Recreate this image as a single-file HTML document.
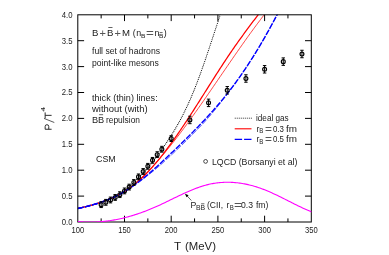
<!DOCTYPE html>
<html><head><meta charset="utf-8"><title>chart</title>
<style>
html,body{margin:0;padding:0;background:#fff;}
body{width:389px;height:255px;position:relative;overflow:hidden;font-family:"Liberation Sans",sans-serif;color:#222;}
</style></head><body>
<svg width="389" height="255" viewBox="0 0 389 255" style="position:absolute;left:0;top:0">
<defs><clipPath id="c"><rect x="77.80" y="14.80" width="233.50" height="207.20"/></clipPath></defs>
<clipPath id="c2"><rect x="77.80" y="150" width="46.70" height="72"/></clipPath>
<g clip-path="url(#c)" fill="none">
<path d="M77.80 208.48 L78.54 208.32 L79.27 208.16 L80.01 207.99 L80.75 207.83 L81.48 207.66 L82.22 207.49 L82.96 207.32 L83.69 207.14 L84.43 206.97 L85.17 206.79 L85.91 206.61 L86.64 206.42 L87.38 206.24 L88.12 206.05 L88.85 205.86 L89.59 205.67 L90.33 205.47 L91.06 205.27 L91.80 205.07 L92.54 204.86 L93.27 204.65 L94.01 204.44 L94.75 204.23 L95.48 204.01 L96.22 203.78 L96.96 203.56 L97.70 203.33 L98.43 203.09 L99.17 202.85 L99.91 202.61 L100.64 202.37 L101.38 202.11 L102.12 201.86 L102.85 201.60 L103.59 201.34 L104.33 201.07 L105.06 200.79 L105.80 200.52 L106.54 200.23 L107.27 199.95 L108.01 199.65 L108.75 199.35 L109.49 199.04 L110.22 198.73 L110.96 198.41 L111.70 198.08 L112.43 197.74 L113.17 197.39 L113.91 197.04 L114.64 196.67 L115.38 196.29 L116.12 195.90 L116.85 195.50 L117.59 195.08 L118.33 194.66 L119.06 194.22 L119.80 193.76 L120.54 193.29 L121.28 192.81 L122.01 192.31 L122.75 191.80 L123.49 191.27 L124.22 190.73 L124.96 190.17 L125.70 189.59 L126.43 189.00 L127.17 188.40 L127.91 187.77 L128.64 187.14 L129.38 186.49 L130.12 185.83 L130.85 185.16 L131.59 184.47 L132.33 183.78 L133.07 183.08 L133.80 182.37 L134.54 181.65 L135.28 180.93 L136.01 180.21 L136.75 179.49 L137.49 178.76 L138.22 178.02 L138.96 177.27 L139.70 176.51 L140.43 175.74 L141.17 174.97 L141.91 174.18 L142.64 173.38 L143.38 172.57 L144.12 171.75 L144.86 170.93 L145.59 170.09 L146.33 169.25 L147.07 168.39 L147.80 167.53 L148.54 166.65 L149.28 165.77 L150.01 164.88 L150.75 163.98 L151.49 163.07 L152.22 162.15 L152.96 161.22 L153.70 160.29 L154.43 159.34 L155.17 158.39 L155.91 157.43 L156.65 156.46 L157.38 155.48 L158.12 154.50 L158.86 153.50 L159.59 152.50 L160.33 151.49 L161.07 150.47 L161.80 149.45 L162.54 148.41 L163.28 147.37 L164.01 146.32 L164.75 145.26 L165.49 144.19 L166.22 143.11 L166.96 142.02 L167.70 140.91 L168.44 139.80 L169.17 138.67 L169.91 137.54 L170.65 136.39 L171.38 135.22 L172.12 134.04 L172.86 132.85 L173.59 131.64 L174.33 130.42 L175.07 129.18 L175.80 127.92 L176.54 126.65 L177.28 125.36 L178.01 124.05 L178.75 122.73 L179.49 121.38 L180.23 120.02 L180.96 118.64 L181.70 117.23 L182.44 115.81 L183.17 114.37 L183.91 112.90 L184.65 111.41 L185.38 109.90 L186.12 108.37 L186.86 106.81 L187.59 105.23 L188.33 103.62 L189.07 101.99 L189.80 100.34 L190.54 98.66 L191.28 96.95 L192.02 95.22 L192.75 93.45 L193.49 91.66 L194.23 89.85 L194.96 88.00 L195.70 86.13 L196.44 84.23 L197.17 82.31 L197.91 80.36 L198.65 78.39 L199.38 76.40 L200.12 74.38 L200.86 72.35 L201.59 70.29 L202.33 68.22 L203.07 66.13 L203.81 64.03 L204.54 61.90 L205.28 59.77 L206.02 57.62 L206.75 55.46 L207.49 53.28 L208.23 51.10 L208.96 48.91 L209.70 46.70 L210.44 44.49 L211.17 42.28 L211.91 40.05 L212.65 37.83 L213.38 35.60 L214.12 33.36 L214.86 31.13 L215.60 28.89 L216.33 26.65 L217.07 24.42 L217.81 22.18 L218.54 19.95 L219.28 17.72 L220.02 15.50 L220.75 13.28 L221.49 11.07 L222.23 8.87 L222.96 6.68 L223.70 4.50 L224.44 2.32" stroke="#000" stroke-width="1.1" stroke-linecap="round" stroke-dasharray="0.01 1.9"/>
<path d="M77.80 208.48 L78.76 208.27 L79.72 208.06 L80.69 207.84 L81.65 207.62 L82.61 207.40 L83.57 207.17 L84.54 206.94 L85.50 206.71 L86.46 206.47 L87.42 206.23 L88.38 205.98 L89.35 205.73 L90.31 205.47 L91.27 205.21 L92.23 204.95 L93.19 204.68 L94.16 204.40 L95.12 204.12 L96.08 203.83 L97.04 203.53 L98.01 203.23 L98.97 202.92 L99.93 202.60 L100.89 202.28 L101.85 201.95 L102.82 201.61 L103.78 201.27 L104.74 200.92 L105.70 200.56 L106.66 200.20 L107.63 199.83 L108.59 199.45 L109.55 199.07 L110.51 198.68 L111.48 198.28 L112.44 197.86 L113.40 197.44 L114.36 197.00 L115.32 196.55 L116.29 196.08 L117.25 195.60 L118.21 195.10 L119.17 194.59 L120.14 194.05 L121.10 193.50 L122.06 192.93 L123.02 192.34 L123.98 191.72 L124.95 191.09 L125.91 190.44 L126.87 189.77 L127.83 189.07 L128.79 188.36 L129.76 187.63 L130.72 186.88 L131.68 186.12 L132.64 185.34 L133.61 184.54 L134.57 183.74 L135.53 182.92 L136.49 182.10 L137.45 181.27 L138.42 180.42 L139.38 179.56 L140.34 178.69 L141.30 177.80 L142.26 176.91 L143.23 176.00 L144.19 175.07 L145.15 174.14 L146.11 173.19 L147.08 172.23 L148.04 171.26 L149.00 170.28 L149.96 169.29 L150.92 168.29 L151.89 167.27 L152.85 166.25 L153.81 165.21 L154.77 164.16 L155.74 163.10 L156.70 162.04 L157.66 160.96 L158.62 159.87 L159.58 158.77 L160.55 157.67 L161.51 156.55 L162.47 155.42 L163.43 154.29 L164.39 153.14 L165.36 151.99 L166.32 150.83 L167.28 149.66 L168.24 148.48 L169.21 147.29 L170.17 146.09 L171.13 144.89 L172.09 143.68 L173.05 142.46 L174.02 141.23 L174.98 140.00 L175.94 138.76 L176.90 137.51 L177.86 136.26 L178.83 134.99 L179.79 133.73 L180.75 132.45 L181.71 131.17 L182.68 129.88 L183.64 128.59 L184.60 127.29 L185.56 125.99 L186.52 124.68 L187.49 123.36 L188.45 122.04 L189.41 120.72 L190.37 119.39 L191.33 118.05 L192.30 116.71 L193.26 115.37 L194.22 114.02 L195.18 112.67 L196.15 111.31 L197.11 109.95 L198.07 108.58 L199.03 107.22 L199.99 105.85 L200.96 104.47 L201.92 103.10 L202.88 101.72 L203.84 100.33 L204.81 98.95 L205.77 97.56 L206.73 96.17 L207.69 94.78 L208.65 93.38 L209.62 91.99 L210.58 90.59 L211.54 89.19 L212.50 87.79 L213.46 86.39 L214.43 84.99 L215.39 83.58 L216.35 82.18 L217.31 80.77 L218.28 79.37 L219.24 77.96 L220.20 76.56 L221.16 75.15 L222.12 73.75 L223.09 72.34 L224.05 70.94 L225.01 69.53 L225.97 68.13 L226.93 66.73 L227.90 65.33 L228.86 63.93 L229.82 62.53 L230.78 61.13 L231.75 59.74 L232.71 58.34 L233.67 56.95 L234.63 55.56 L235.59 54.18 L236.56 52.79 L237.52 51.41 L238.48 50.03 L239.44 48.66 L240.41 47.28 L241.37 45.91 L242.33 44.55 L243.29 43.19 L244.25 41.83 L245.22 40.47 L246.18 39.12 L247.14 37.77 L248.10 36.43 L249.06 35.09 L250.03 33.76 L250.99 32.43 L251.95 31.11 L252.91 29.79 L253.88 28.48 L254.84 27.17 L255.80 25.87 L256.76 24.57 L257.72 23.28 L258.69 22.00 L259.65 20.72 L260.61 19.45 L261.57 18.18 L262.53 16.92 L263.50 15.67 L264.46 14.43 L265.42 13.19 L266.38 11.96 L267.35 10.74 L268.31 9.52 L269.27 8.31" stroke="#ff0000" stroke-width="0.75"/>
<path d="M77.80 208.48 L78.73 208.28 L79.66 208.07 L80.59 207.86 L81.52 207.65 L82.45 207.44 L83.38 207.22 L84.31 207.00 L85.23 206.77 L86.16 206.54 L87.09 206.31 L88.02 206.07 L88.95 205.83 L89.88 205.59 L90.81 205.34 L91.74 205.08 L92.67 204.82 L93.60 204.56 L94.53 204.29 L95.46 204.01 L96.39 203.73 L97.32 203.45 L98.24 203.15 L99.17 202.85 L100.10 202.55 L101.03 202.23 L101.96 201.91 L102.89 201.59 L103.82 201.25 L104.75 200.91 L105.68 200.56 L106.61 200.21 L107.54 199.84 L108.47 199.47 L109.40 199.09 L110.33 198.70 L111.26 198.30 L112.18 197.90 L113.11 197.49 L114.04 197.06 L114.97 196.63 L115.90 196.19 L116.83 195.73 L117.76 195.27 L118.69 194.79 L119.62 194.31 L120.55 193.81 L121.48 193.29 L122.41 192.77 L123.34 192.22 L124.27 191.67 L125.19 191.10 L126.12 190.51 L127.05 189.91 L127.98 189.29 L128.91 188.65 L129.84 188.00 L130.77 187.33 L131.70 186.64 L132.63 185.93 L133.56 185.20 L134.49 184.46 L135.42 183.70 L136.35 182.93 L137.28 182.14 L138.20 181.33 L139.13 180.51 L140.06 179.67 L140.99 178.81 L141.92 177.94 L142.85 177.05 L143.78 176.14 L144.71 175.22 L145.64 174.28 L146.57 173.33 L147.50 172.37 L148.43 171.38 L149.36 170.39 L150.29 169.38 L151.22 168.35 L152.14 167.32 L153.07 166.26 L154.00 165.20 L154.93 164.12 L155.86 163.03 L156.79 161.92 L157.72 160.81 L158.65 159.68 L159.58 158.54 L160.51 157.38 L161.44 156.22 L162.37 155.04 L163.30 153.85 L164.23 152.65 L165.15 151.44 L166.08 150.22 L167.01 148.98 L167.94 147.74 L168.87 146.49 L169.80 145.23 L170.73 143.95 L171.66 142.67 L172.59 141.38 L173.52 140.08 L174.45 138.77 L175.38 137.45 L176.31 136.13 L177.24 134.79 L178.17 133.45 L179.09 132.10 L180.02 130.74 L180.95 129.38 L181.88 128.00 L182.81 126.62 L183.74 125.24 L184.67 123.84 L185.60 122.45 L186.53 121.04 L187.46 119.63 L188.39 118.21 L189.32 116.79 L190.25 115.36 L191.18 113.93 L192.10 112.49 L193.03 111.05 L193.96 109.60 L194.89 108.15 L195.82 106.70 L196.75 105.24 L197.68 103.78 L198.61 102.32 L199.54 100.86 L200.47 99.39 L201.40 97.92 L202.33 96.45 L203.26 94.98 L204.19 93.51 L205.11 92.04 L206.04 90.57 L206.97 89.10 L207.90 87.62 L208.83 86.15 L209.76 84.68 L210.69 83.21 L211.62 81.75 L212.55 80.28 L213.48 78.82 L214.41 77.36 L215.34 75.90 L216.27 74.45 L217.20 73.00 L218.13 71.55 L219.05 70.10 L219.98 68.67 L220.91 67.23 L221.84 65.80 L222.77 64.38 L223.70 62.96 L224.63 61.55 L225.56 60.14 L226.49 58.74 L227.42 57.35 L228.35 55.96 L229.28 54.58 L230.21 53.21 L231.14 51.85 L232.06 50.49 L232.99 49.14 L233.92 47.80 L234.85 46.47 L235.78 45.14 L236.71 43.82 L237.64 42.51 L238.57 41.20 L239.50 39.90 L240.43 38.60 L241.36 37.31 L242.29 36.03 L243.22 34.75 L244.15 33.48 L245.08 32.21 L246.00 30.95 L246.93 29.69 L247.86 28.43 L248.79 27.18 L249.72 25.94 L250.65 24.70 L251.58 23.46 L252.51 22.22 L253.44 20.99 L254.37 19.76 L255.30 18.54 L256.23 17.31 L257.16 16.09 L258.09 14.88 L259.01 13.66 L259.94 12.45 L260.87 11.24 L261.80 10.03 L262.73 8.82" stroke="#ff0000" stroke-width="1.25"/>
<path d="M77.80 208.48 L78.82 208.26 L79.85 208.03 L80.87 207.80 L81.89 207.57 L82.92 207.33 L83.94 207.08 L84.96 206.84 L85.99 206.59 L87.01 206.33 L88.03 206.07 L89.05 205.81 L90.08 205.54 L91.10 205.26 L92.12 204.98 L93.15 204.69 L94.17 204.39 L95.19 204.09 L96.22 203.78 L97.24 203.47 L98.26 203.15 L99.29 202.82 L100.31 202.48 L101.33 202.13 L102.36 201.78 L103.38 201.41 L104.40 201.04 L105.43 200.66 L106.45 200.27 L107.47 199.87 L108.50 199.46 L109.52 199.03 L110.54 198.60 L111.56 198.16 L112.59 197.71 L113.61 197.25 L114.63 196.77 L115.66 196.28 L116.68 195.78 L117.70 195.27 L118.73 194.75 L119.75 194.21 L120.77 193.66 L121.80 193.10 L122.82 192.53 L123.84 191.94 L124.87 191.33 L125.89 190.72 L126.92 190.09 L127.95 189.46 L128.98 188.81 L130.01 188.15 L131.04 187.48 L132.08 186.81 L133.11 186.12 L134.15 185.42 L135.19 184.71 L136.24 183.99 L137.28 183.26 L138.32 182.52 L139.37 181.77 L140.42 181.01 L141.46 180.25 L142.51 179.47 L143.56 178.68 L144.61 177.89 L145.66 177.09 L146.71 176.27 L147.76 175.45 L148.82 174.62 L149.87 173.79 L150.92 172.94 L151.97 172.09 L153.02 171.23 L154.07 170.36 L155.13 169.48 L156.18 168.60 L157.23 167.71 L158.27 166.81 L159.32 165.91 L160.37 165.00 L161.41 164.08 L162.46 163.16 L163.50 162.23 L164.54 161.30 L165.58 160.36 L166.62 159.41 L167.65 158.46 L168.68 157.50 L169.72 156.54 L170.74 155.57 L171.77 154.60 L172.79 153.63 L173.82 152.65 L174.84 151.67 L175.87 150.69 L176.89 149.71 L177.91 148.72 L178.94 147.74 L179.96 146.75 L180.99 145.76 L182.01 144.77 L183.04 143.78 L184.06 142.78 L185.08 141.78 L186.11 140.77 L187.13 139.77 L188.16 138.76 L189.18 137.74 L190.21 136.73 L191.23 135.71 L192.26 134.68 L193.28 133.65 L194.31 132.61 L195.33 131.57 L196.36 130.53 L197.38 129.48 L198.41 128.42 L199.43 127.36 L200.46 126.29 L201.48 125.22 L202.50 124.13 L203.52 123.03 L204.53 121.93 L205.54 120.81 L206.54 119.69 L207.54 118.55 L208.54 117.41 L209.54 116.26 L210.54 115.09 L211.53 113.92 L212.52 112.74 L213.51 111.55 L214.50 110.35 L215.49 109.14 L216.48 107.92 L217.46 106.69 L218.45 105.46 L219.43 104.21 L220.42 102.95 L221.41 101.69 L222.39 100.42 L223.38 99.13 L224.37 97.84 L225.36 96.54 L226.35 95.23 L227.34 93.91 L228.33 92.58 L229.33 91.25 L230.33 89.90 L231.33 88.54 L232.34 87.18 L233.34 85.80 L234.36 84.42 L235.37 83.02 L236.39 81.62 L237.42 80.21 L238.44 78.78 L239.46 77.34 L240.48 75.88 L241.51 74.42 L242.53 72.93 L243.55 71.44 L244.58 69.93 L245.60 68.40 L246.62 66.87 L247.65 65.31 L248.67 63.74 L249.69 62.16 L250.72 60.57 L251.74 58.96 L252.76 57.33 L253.79 55.70 L254.81 54.04 L255.83 52.38 L256.86 50.70 L257.88 49.01 L258.90 47.30 L259.93 45.58 L260.95 43.85 L261.97 42.10 L262.99 40.34 L264.02 38.57 L265.04 36.78 L266.06 34.98 L267.09 33.17 L268.11 31.34 L269.13 29.50 L270.16 27.65 L271.18 25.78 L272.20 23.90 L273.23 22.01 L274.25 20.11 L275.27 18.19 L276.30 16.26 L277.32 14.32 L278.34 12.37 L279.37 10.40 L280.39 8.42 L281.41 6.43" stroke="#2020ff" stroke-width="0.8" stroke-dasharray="5.9 1.4"/>
<path d="M77.80 208.48 L78.82 208.26 L79.85 208.03 L80.87 207.80 L81.89 207.57 L82.92 207.33 L83.94 207.08 L84.96 206.84 L85.99 206.59 L87.01 206.33 L88.03 206.07 L89.05 205.81 L90.08 205.54 L91.10 205.26 L92.12 204.98 L93.15 204.69 L94.17 204.39 L95.19 204.09 L96.22 203.78 L97.24 203.47 L98.26 203.15 L99.29 202.82 L100.31 202.48 L101.33 202.13 L102.36 201.78 L103.38 201.41 L104.40 201.04 L105.43 200.66 L106.45 200.27 L107.47 199.87 L108.50 199.46 L109.52 199.03 L110.54 198.60 L111.56 198.16 L112.59 197.71 L113.61 197.25 L114.63 196.77 L115.66 196.28 L116.68 195.78 L117.70 195.27 L118.73 194.75 L119.75 194.21 L120.77 193.66 L121.80 193.10 L122.82 192.53 L123.84 191.94 L124.87 191.33 L125.89 190.72 L126.91 190.08 L127.93 189.44 L128.96 188.78 L129.98 188.11 L131.00 187.42 L132.02 186.73 L133.04 186.02 L134.07 185.29 L135.09 184.56 L136.11 183.81 L137.13 183.06 L138.15 182.29 L139.17 181.51 L140.19 180.72 L141.21 179.92 L142.23 179.11 L143.25 178.30 L144.27 177.47 L145.29 176.63 L146.31 175.79 L147.33 174.93 L148.35 174.07 L149.37 173.20 L150.39 172.32 L151.41 171.44 L152.43 170.55 L153.45 169.65 L154.47 168.74 L155.49 167.83 L156.51 166.91 L157.53 165.99 L158.55 165.06 L159.57 164.13 L160.59 163.19 L161.61 162.24 L162.63 161.29 L163.65 160.34 L164.67 159.39 L165.69 158.43 L166.72 157.46 L167.74 156.50 L168.76 155.53 L169.78 154.56 L170.81 153.59 L171.83 152.61 L172.85 151.64 L173.87 150.66 L174.90 149.68 L175.92 148.70 L176.94 147.71 L177.97 146.73 L178.99 145.74 L180.01 144.75 L181.04 143.76 L182.06 142.77 L183.08 141.78 L184.11 140.78 L185.13 139.78 L186.15 138.77 L187.17 137.76 L188.20 136.75 L189.22 135.73 L190.24 134.71 L191.27 133.69 L192.29 132.66 L193.31 131.63 L194.34 130.59 L195.36 129.55 L196.38 128.50 L197.40 127.45 L198.43 126.39 L199.45 125.32 L200.47 124.25 L201.50 123.18 L202.52 122.10 L203.55 121.01 L204.57 119.91 L205.60 118.81 L206.62 117.71 L207.65 116.59 L208.67 115.47 L209.70 114.34 L210.73 113.20 L211.75 112.06 L212.78 110.90 L213.81 109.74 L214.84 108.57 L215.86 107.39 L216.89 106.20 L217.92 105.01 L218.95 103.80 L219.97 102.58 L221.00 101.35 L222.03 100.12 L223.06 98.87 L224.08 97.61 L225.11 96.34 L226.14 95.07 L227.17 93.77 L228.19 92.47 L229.22 91.16 L230.24 89.83 L231.27 88.50 L232.30 87.15 L233.32 85.78 L234.34 84.41 L235.37 83.02 L236.39 81.62 L237.42 80.21 L238.44 78.78 L239.46 77.34 L240.48 75.88 L241.51 74.42 L242.53 72.93 L243.55 71.44 L244.58 69.93 L245.60 68.40 L246.62 66.87 L247.65 65.31 L248.67 63.74 L249.69 62.16 L250.72 60.57 L251.74 58.96 L252.76 57.33 L253.79 55.70 L254.81 54.04 L255.83 52.38 L256.86 50.70 L257.88 49.01 L258.90 47.30 L259.93 45.58 L260.95 43.85 L261.97 42.10 L262.99 40.34 L264.02 38.57 L265.04 36.78 L266.06 34.98 L267.09 33.17 L268.11 31.34 L269.13 29.50 L270.16 27.65 L271.18 25.78 L272.20 23.90 L273.23 22.01 L274.25 20.11 L275.27 18.19 L276.30 16.26 L277.32 14.32 L278.34 12.37 L279.37 10.40 L280.39 8.42 L281.41 6.43" stroke="#0000ff" stroke-width="1.4" stroke-dasharray="5.9 1.4"/>
<path d="M77.80 208.48 L78.82 208.26 L79.85 208.03 L80.87 207.80 L81.89 207.57 L82.92 207.33 L83.94 207.08 L84.96 206.84 L85.99 206.59 L87.01 206.33 L88.03 206.07 L89.05 205.81 L90.08 205.54 L91.10 205.26 L92.12 204.98 L93.15 204.69 L94.17 204.39 L95.19 204.09 L96.22 203.78 L97.24 203.47 L98.26 203.15 L99.29 202.82 L100.31 202.48 L101.33 202.13 L102.36 201.78 L103.38 201.41 L104.40 201.04 L105.43 200.66 L106.45 200.27 L107.47 199.87 L108.50 199.46 L109.52 199.03 L110.54 198.60 L111.56 198.16 L112.59 197.71 L113.61 197.25 L114.63 196.77 L115.66 196.28 L116.68 195.78 L117.70 195.27 L118.73 194.75 L119.75 194.21 L120.77 193.66 L121.80 193.10 L122.82 192.53 L123.84 191.94 L124.87 191.33 L125.89 190.72 L126.91 190.08 L127.93 189.44 L128.96 188.78 L129.98 188.11 L131.00 187.42 L132.02 186.73 L133.04 186.02 L134.07 185.29 L135.09 184.56 L136.11 183.81 L137.13 183.06 L138.15 182.29 L139.17 181.51 L140.19 180.72 L141.21 179.92 L142.23 179.11 L143.25 178.30 L144.27 177.47 L145.29 176.63 L146.31 175.79 L147.33 174.93 L148.35 174.07 L149.37 173.20 L150.39 172.32 L151.41 171.44 L152.43 170.55 L153.45 169.65 L154.47 168.74 L155.49 167.83 L156.51 166.91 L157.53 165.99 L158.55 165.06 L159.57 164.13 L160.59 163.19 L161.61 162.24 L162.63 161.29 L163.65 160.34 L164.67 159.39 L165.69 158.43 L166.72 157.46 L167.74 156.50 L168.76 155.53 L169.78 154.56 L170.81 153.59 L171.83 152.61 L172.85 151.64 L173.87 150.66 L174.90 149.68 L175.92 148.70 L176.94 147.71 L177.97 146.73 L178.99 145.74 L180.01 144.75 L181.04 143.76 L182.06 142.77 L183.08 141.78 L184.11 140.78 L185.13 139.78 L186.15 138.77 L187.17 137.76 L188.20 136.75 L189.22 135.73 L190.24 134.71 L191.27 133.69 L192.29 132.66 L193.31 131.63 L194.34 130.59 L195.36 129.55 L196.38 128.50 L197.40 127.45 L198.43 126.39 L199.45 125.32 L200.47 124.25 L201.50 123.18 L202.52 122.10 L203.55 121.01 L204.57 119.91 L205.60 118.81 L206.62 117.71 L207.65 116.59 L208.67 115.47 L209.70 114.34 L210.73 113.20 L211.75 112.06 L212.78 110.90 L213.81 109.74 L214.84 108.57 L215.86 107.39 L216.89 106.20 L217.92 105.01 L218.95 103.80 L219.97 102.58 L221.00 101.35 L222.03 100.12 L223.06 98.87 L224.08 97.61 L225.11 96.34 L226.14 95.07 L227.17 93.77 L228.19 92.47 L229.22 91.16 L230.24 89.83 L231.27 88.50 L232.30 87.15 L233.32 85.78 L234.34 84.41 L235.37 83.02 L236.39 81.62 L237.42 80.21 L238.44 78.78 L239.46 77.34 L240.48 75.88 L241.51 74.42 L242.53 72.93 L243.55 71.44 L244.58 69.93 L245.60 68.40 L246.62 66.87 L247.65 65.31 L248.67 63.74 L249.69 62.16 L250.72 60.57 L251.74 58.96 L252.76 57.33 L253.79 55.70 L254.81 54.04 L255.83 52.38 L256.86 50.70 L257.88 49.01 L258.90 47.30 L259.93 45.58 L260.95 43.85 L261.97 42.10 L262.99 40.34 L264.02 38.57 L265.04 36.78 L266.06 34.98 L267.09 33.17 L268.11 31.34 L269.13 29.50 L270.16 27.65 L271.18 25.78 L272.20 23.90 L273.23 22.01 L274.25 20.11 L275.27 18.19 L276.30 16.26 L277.32 14.32 L278.34 12.37 L279.37 10.40 L280.39 8.42 L281.41 6.43" stroke="#0000ff" stroke-width="1.4" clip-path="url(#c2)" stroke-dasharray="5.9 1.4"/>
</g>
<g stroke="#000" stroke-width="1.0" fill="none">
<path d="M101.15 201.75V207.55M99.45 201.75H102.85M99.45 207.55H102.85"/>
<circle cx="101.15" cy="204.65" r="1.95" stroke-width="1.15"/>
<path d="M105.82 199.42V205.22M104.12 199.42H107.52M104.12 205.22H107.52"/>
<circle cx="105.82" cy="202.32" r="1.95" stroke-width="1.15"/>
<path d="M110.49 197.08V202.89M108.79 197.08H112.19M108.79 202.89H112.19"/>
<circle cx="110.49" cy="199.99" r="1.95" stroke-width="1.15"/>
<path d="M115.16 194.55V200.35M113.46 194.55H116.86M113.46 200.35H116.86"/>
<circle cx="115.16" cy="197.45" r="1.95" stroke-width="1.15"/>
<path d="M119.83 191.75V197.55M118.13 191.75H121.53M118.13 197.55H121.53"/>
<circle cx="119.83" cy="194.65" r="1.95" stroke-width="1.15"/>
<path d="M124.50 188.02V193.82M122.80 188.02H126.20M122.80 193.82H126.20"/>
<circle cx="124.50" cy="190.92" r="1.95" stroke-width="1.15"/>
<path d="M129.17 184.19V189.99M127.47 184.19H130.87M127.47 189.99H130.87"/>
<circle cx="129.17" cy="187.09" r="1.95" stroke-width="1.15"/>
<path d="M133.84 179.58V185.38M132.14 179.58H135.54M132.14 185.38H135.54"/>
<circle cx="133.84" cy="182.48" r="1.95" stroke-width="1.15"/>
<path d="M138.51 173.98V179.78M136.81 173.98H140.21M136.81 179.78H140.21"/>
<circle cx="138.51" cy="176.88" r="1.95" stroke-width="1.15"/>
<path d="M143.18 168.59V174.40M141.48 168.59H144.88M141.48 174.40H144.88"/>
<circle cx="143.18" cy="171.50" r="1.95" stroke-width="1.15"/>
<path d="M147.85 163.41V169.22M146.15 163.41H149.55M146.15 169.22H149.55"/>
<circle cx="147.85" cy="166.31" r="1.95" stroke-width="1.15"/>
<path d="M152.52 157.46V163.26M150.82 157.46H154.22M150.82 163.26H154.22"/>
<circle cx="152.52" cy="160.36" r="1.95" stroke-width="1.15"/>
<path d="M157.19 151.76V157.56M155.49 151.76H158.89M155.49 157.56H158.89"/>
<circle cx="157.19" cy="154.66" r="1.95" stroke-width="1.15"/>
<path d="M161.86 146.32V152.12M160.16 146.32H163.56M160.16 152.12H163.56"/>
<circle cx="161.86" cy="149.22" r="1.95" stroke-width="1.15"/>
<path d="M171.20 135.70V141.50M169.50 135.70H172.90M169.50 141.50H172.90"/>
<circle cx="171.20" cy="138.60" r="1.95" stroke-width="1.15"/>
<path d="M189.88 116.22V123.68M188.18 116.22H191.58M188.18 123.68H191.58"/>
<circle cx="189.88" cy="119.95" r="1.95" stroke-width="1.15"/>
<path d="M208.56 99.13V106.59M206.86 99.13H210.26M206.86 106.59H210.26"/>
<circle cx="208.56" cy="102.86" r="1.95" stroke-width="1.15"/>
<path d="M227.24 86.54V94.00M225.54 86.54H228.94M225.54 94.00H228.94"/>
<circle cx="227.24" cy="90.27" r="1.95" stroke-width="1.15"/>
<path d="M245.92 74.78V82.24M244.22 74.78H247.62M244.22 82.24H247.62"/>
<circle cx="245.92" cy="78.51" r="1.95" stroke-width="1.15"/>
<path d="M264.60 65.56V73.02M262.90 65.56H266.30M262.90 73.02H266.30"/>
<circle cx="264.60" cy="69.29" r="1.95" stroke-width="1.15"/>
<path d="M283.28 57.90V65.36M281.58 57.90H284.98M281.58 65.36H284.98"/>
<circle cx="283.28" cy="61.63" r="1.95" stroke-width="1.15"/>
<path d="M301.96 50.28V57.74M300.26 50.28H303.66M300.26 57.74H303.66"/>
<circle cx="301.96" cy="54.01" r="1.95" stroke-width="1.15"/>
</g>
<g stroke="#000" stroke-width="1" fill="none">
<rect x="77.80" y="14.80" width="233.50" height="207.20"/>
<path d="M101.15 222.00v-3.60M101.15 14.80v3.60"/>
<path d="M124.50 222.00v-6.30M124.50 14.80v6.30"/>
<path d="M147.85 222.00v-3.60M147.85 14.80v3.60"/>
<path d="M171.20 222.00v-6.30M171.20 14.80v6.30"/>
<path d="M194.55 222.00v-3.60M194.55 14.80v3.60"/>
<path d="M217.90 222.00v-6.30M217.90 14.80v6.30"/>
<path d="M241.25 222.00v-3.60M241.25 14.80v3.60"/>
<path d="M264.60 222.00v-6.30M264.60 14.80v6.30"/>
<path d="M287.95 222.00v-3.60M287.95 14.80v3.60"/>
<path d="M77.80 196.10h6.3M311.30 196.10h-6.3"/>
<path d="M77.80 170.20h6.3M311.30 170.20h-6.3"/>
<path d="M77.80 144.30h6.3M311.30 144.30h-6.3"/>
<path d="M77.80 118.40h6.3M311.30 118.40h-6.3"/>
<path d="M77.80 92.50h6.3M311.30 92.50h-6.3"/>
<path d="M77.80 66.60h6.3M311.30 66.60h-6.3"/>
<path d="M77.80 40.70h6.3M311.30 40.70h-6.3"/>
</g>
<path d="M77.80 221.49 L78.98 221.60 L80.17 221.70 L81.35 221.80 L82.53 221.88 L83.71 221.94 L84.90 222.00 L86.08 222.05 L87.26 222.08 L88.44 222.11 L89.63 222.12 L90.81 222.12 L91.99 222.11 L93.18 222.09 L94.36 222.06 L95.54 222.02 L96.72 221.96 L97.91 221.90 L99.09 221.82 L100.27 221.74 L101.46 221.64 L102.64 221.54 L103.82 221.42 L105.00 221.29 L106.19 221.15 L107.37 221.01 L108.55 220.85 L109.73 220.68 L110.92 220.50 L112.10 220.31 L113.28 220.11 L114.47 219.90 L115.65 219.69 L116.83 219.46 L118.01 219.22 L119.20 218.97 L120.38 218.71 L121.56 218.45 L122.74 218.17 L123.93 217.88 L125.11 217.59 L126.29 217.28 L127.48 216.97 L128.66 216.64 L129.84 216.31 L131.02 215.97 L132.21 215.62 L133.39 215.26 L134.57 214.89 L135.75 214.51 L136.94 214.13 L138.12 213.73 L139.30 213.33 L140.49 212.91 L141.67 212.49 L142.85 212.06 L144.03 211.62 L145.22 211.18 L146.40 210.72 L147.58 210.26 L148.77 209.78 L149.95 209.30 L151.13 208.81 L152.31 208.32 L153.50 207.81 L154.68 207.30 L155.86 206.78 L157.04 206.25 L158.23 205.72 L159.41 205.17 L160.59 204.63 L161.78 204.07 L162.96 203.51 L164.14 202.95 L165.32 202.38 L166.51 201.81 L167.69 201.24 L168.87 200.66 L170.05 200.08 L171.24 199.51 L172.42 198.93 L173.60 198.35 L174.79 197.78 L175.97 197.20 L177.15 196.63 L178.33 196.06 L179.52 195.50 L180.70 194.94 L181.88 194.38 L183.07 193.83 L184.25 193.29 L185.43 192.75 L186.61 192.22 L187.80 191.69 L188.98 191.18 L190.16 190.67 L191.34 190.18 L192.53 189.69 L193.71 189.22 L194.89 188.76 L196.08 188.30 L197.26 187.87 L198.44 187.44 L199.62 187.03 L200.81 186.63 L201.99 186.25 L203.17 185.89 L204.35 185.54 L205.54 185.21 L206.72 184.89 L207.90 184.60 L209.09 184.32 L210.27 184.06 L211.45 183.82 L212.63 183.59 L213.82 183.39 L215.00 183.20 L216.18 183.03 L217.36 182.87 L218.55 182.73 L219.73 182.62 L220.91 182.51 L222.10 182.43 L223.28 182.36 L224.46 182.31 L225.64 182.27 L226.83 182.25 L228.01 182.25 L229.19 182.26 L230.38 182.29 L231.56 182.34 L232.74 182.40 L233.92 182.48 L235.11 182.58 L236.29 182.69 L237.47 182.81 L238.65 182.96 L239.84 183.11 L241.02 183.29 L242.20 183.47 L243.39 183.68 L244.57 183.90 L245.75 184.13 L246.93 184.38 L248.12 184.64 L249.30 184.92 L250.48 185.21 L251.66 185.52 L252.85 185.84 L254.03 186.17 L255.21 186.52 L256.40 186.89 L257.58 187.27 L258.76 187.66 L259.94 188.06 L261.13 188.48 L262.31 188.92 L263.49 189.36 L264.68 189.82 L265.86 190.30 L267.04 190.78 L268.22 191.28 L269.41 191.79 L270.59 192.31 L271.77 192.84 L272.95 193.38 L274.14 193.92 L275.32 194.48 L276.50 195.04 L277.69 195.61 L278.87 196.18 L280.05 196.76 L281.23 197.35 L282.42 197.94 L283.60 198.53 L284.78 199.12 L285.96 199.72 L287.15 200.32 L288.33 200.91 L289.51 201.51 L290.70 202.11 L291.88 202.70 L293.06 203.30 L294.24 203.89 L295.43 204.48 L296.61 205.06 L297.79 205.64 L298.97 206.21 L300.16 206.78 L301.34 207.34 L302.52 207.89 L303.71 208.43 L304.89 208.97 L306.07 209.50 L307.25 210.01 L308.44 210.52 L309.62 211.01 L310.80 211.49 L311.99 211.96 L313.17 212.42" stroke="#ff00ff" stroke-width="1.1" fill="none" clip-path="url(#c)"/>
<path d="M235.2 118.2H251.5" stroke="#000" stroke-width="1.0" stroke-linecap="round" stroke-dasharray="0.01 2.0" fill="none"/>
<path d="M234.7 128.8H251.5" stroke="#ff0000" stroke-width="1.1" fill="none"/>
<path d="M234.7 139.4H251.5" stroke="#0000ff" stroke-width="1.2" stroke-dasharray="7.4 2.0" fill="none"/>
<circle cx="205.6" cy="161.4" r="1.9" stroke="#000" stroke-width="0.7" fill="none"/>
<path d="M191.4 200.5L185.8 194.6" stroke="#000" stroke-width="0.6" fill="none"/>
<path d="M185.0 193.8 L188.6 195.3 L186.5 197.3 Z" fill="#000"/>
<g stroke="#222" stroke-width="0.7" fill="none">
<path d="M108.3 27.5H112.5"/>
<path d="M159.7 32.6H162.6"/>
<path d="M99.1 114.7H103.1"/>
<path d="M201.1 203.8H204.4"/>
</g>
<g transform="translate(51.6,129.8) rotate(-90)" stroke="#222" fill="none" stroke-linecap="butt" stroke-linejoin="miter">
<path d="M0.55 0V-6.45H3.3A1.8 1.8 0 0 1 3.3 -2.85H0.55" stroke-width="0.95"/>
<path d="M7.3 2.7L11.4 -7.6" stroke-width="0.75"/>
<path d="M11.5 -6.45H17.4M14.45 -6.45V0" stroke-width="0.95"/>
<path d="M21.3 -6.7V-10.5L18.6 -7.8H22.6" stroke-width="0.75" stroke-linejoin="bevel"/>
</g>
</svg>
<div style="position:absolute;left:0;top:0;width:389px;height:255px;will-change:transform;">
<div id="t1" style="position:absolute;white-space:nowrap;font-size:7.6px;line-height:0;top:222.97px;right:316.10px;transform-origin:100% 0.3465em;transform:scale(1.02,1.12);">0.0</div>
<div id="t2" style="position:absolute;white-space:nowrap;font-size:7.6px;line-height:0;top:197.07px;right:316.10px;transform-origin:100% 0.3465em;transform:scale(1.02,1.12);">0.5</div>
<div id="t3" style="position:absolute;white-space:nowrap;font-size:7.6px;line-height:0;top:171.17px;right:316.10px;transform-origin:100% 0.3465em;transform:scale(1.02,1.12);">1.0</div>
<div id="t4" style="position:absolute;white-space:nowrap;font-size:7.6px;line-height:0;top:145.27px;right:316.10px;transform-origin:100% 0.3465em;transform:scale(1.02,1.12);">1.5</div>
<div id="t5" style="position:absolute;white-space:nowrap;font-size:7.6px;line-height:0;top:119.37px;right:316.10px;transform-origin:100% 0.3465em;transform:scale(1.02,1.12);">2.0</div>
<div id="t6" style="position:absolute;white-space:nowrap;font-size:7.6px;line-height:0;top:93.47px;right:316.10px;transform-origin:100% 0.3465em;transform:scale(1.02,1.12);">2.5</div>
<div id="t7" style="position:absolute;white-space:nowrap;font-size:7.6px;line-height:0;top:67.57px;right:316.10px;transform-origin:100% 0.3465em;transform:scale(1.02,1.12);">3.0</div>
<div id="t8" style="position:absolute;white-space:nowrap;font-size:7.6px;line-height:0;top:41.67px;right:316.10px;transform-origin:100% 0.3465em;transform:scale(1.02,1.12);">3.5</div>
<div id="t9" style="position:absolute;white-space:nowrap;font-size:7.6px;line-height:0;top:15.77px;right:316.10px;transform-origin:100% 0.3465em;transform:scale(1.02,1.12);">4.0</div>
<div id="t10" style="position:absolute;white-space:nowrap;font-size:7.6px;line-height:0;top:230.57px;left:77.80px;transform-origin:50% 0.3465em;transform:translateX(-50%) scale(1,1.12);">100</div>
<div id="t11" style="position:absolute;white-space:nowrap;font-size:7.6px;line-height:0;top:230.57px;left:124.50px;transform-origin:50% 0.3465em;transform:translateX(-50%) scale(1,1.12);">150</div>
<div id="t12" style="position:absolute;white-space:nowrap;font-size:7.6px;line-height:0;top:230.57px;left:171.20px;transform-origin:50% 0.3465em;transform:translateX(-50%) scale(1,1.12);">200</div>
<div id="t13" style="position:absolute;white-space:nowrap;font-size:7.6px;line-height:0;top:230.57px;left:217.90px;transform-origin:50% 0.3465em;transform:translateX(-50%) scale(1,1.12);">250</div>
<div id="t14" style="position:absolute;white-space:nowrap;font-size:7.6px;line-height:0;top:230.57px;left:264.60px;transform-origin:50% 0.3465em;transform:translateX(-50%) scale(1,1.12);">300</div>
<div id="t15" style="position:absolute;white-space:nowrap;font-size:7.6px;line-height:0;top:230.57px;left:311.30px;transform-origin:50% 0.3465em;transform:translateX(-50%) scale(1,1.12);">350</div>
<div id="t16" style="position:absolute;white-space:nowrap;font-size:10.5px;line-height:0;top:246.46px;left:174.300px;transform-origin:0 0.3465em;transform:scale(1.1200,1.050);">T</div>
<div id="t17" style="position:absolute;white-space:nowrap;font-size:10.5px;line-height:0;top:246.46px;left:185.380px;transform-origin:0 0.3465em;transform:scale(1.0825,1.050);">(MeV)</div>
<div id="t18" style="position:absolute;white-space:nowrap;font-size:8.9px;line-height:0;top:32.72px;left:92.340px;transform-origin:0 0.3465em;transform:scale(1.0800,1.100);">B</div>
<div id="t19" style="position:absolute;white-space:nowrap;font-size:11px;line-height:0;top:32.79px;color:#555;left:99.378px;transform-origin:0 0.3465em;transform:scale(1.0000,1.050);">+</div>
<div id="t20" style="position:absolute;white-space:nowrap;font-size:8.9px;line-height:0;top:32.72px;left:106.670px;transform-origin:0 0.3465em;transform:scale(1.0800,1.100);">B</div>
<div id="t21" style="position:absolute;white-space:nowrap;font-size:11px;line-height:0;top:32.79px;color:#555;left:114.528px;transform-origin:0 0.3465em;transform:scale(1.0000,1.050);">+</div>
<div id="t22" style="position:absolute;white-space:nowrap;font-size:8.9px;line-height:0;top:32.72px;left:122.013px;transform-origin:0 0.3465em;transform:scale(1.0800,1.100);">M</div>
<div id="t23" style="position:absolute;white-space:nowrap;font-size:8.9px;line-height:0;top:32.72px;left:132.709px;transform-origin:0 0.3465em;transform:scale(1.0000,1.050);">(</div>
<div id="t24" style="position:absolute;white-space:nowrap;font-size:8.9px;line-height:0;top:32.72px;left:136.290px;transform-origin:0 0.3465em;transform:scale(1.0000,1.050);">n</div>
<div id="t25" style="position:absolute;white-space:nowrap;font-size:6.0px;line-height:0;top:36.22px;left:141.300px;transform-origin:0 0.3465em;transform:scale(1.1000,1.000);">B</div>
<div id="t26" style="position:absolute;white-space:nowrap;font-size:11.5px;line-height:0;top:33.02px;color:#555;left:146.052px;transform-origin:0 0.3465em;transform:scale(1.1660,1.050);">=</div>
<div id="t27" style="position:absolute;white-space:nowrap;font-size:8.9px;line-height:0;top:32.72px;left:154.397px;transform-origin:0 0.3465em;transform:scale(1.0000,1.050);">n</div>
<div id="t28" style="position:absolute;white-space:nowrap;font-size:6.0px;line-height:0;top:36.22px;left:159.450px;transform-origin:0 0.3465em;transform:scale(1.1000,1.000);">B</div>
<div id="t29" style="position:absolute;white-space:nowrap;font-size:8.9px;line-height:0;top:32.72px;left:163.867px;transform-origin:0 0.3465em;transform:scale(1.0000,1.050);">)</div>
<div id="t30" style="position:absolute;white-space:nowrap;font-size:8.5px;line-height:0;top:51.15px;left:91.836px;transform-origin:0 0.3465em;transform:scale(1.0136,1.050);">full set of hadrons</div>
<div id="t31" style="position:absolute;white-space:nowrap;font-size:8.5px;line-height:0;top:62.55px;left:91.690px;transform-origin:0 0.3465em;transform:scale(1.0115,1.050);">point-like mesons</div>
<div id="t32" style="position:absolute;white-space:nowrap;font-size:8.5px;line-height:0;top:97.95px;left:91.870px;transform-origin:0 0.3465em;transform:scale(1.0694,1.050);">thick (thin) lines:</div>
<div id="t33" style="position:absolute;white-space:nowrap;font-size:8.5px;line-height:0;top:109.05px;left:92.000px;transform-origin:0 0.3465em;transform:scale(1.1113,1.050);">without (with)</div>
<div id="t34" style="position:absolute;white-space:nowrap;font-size:8.7px;line-height:0;top:119.99px;left:91.512px;transform-origin:0 0.3465em;transform:scale(1.0600,1.090);">B</div>
<div id="t35" style="position:absolute;white-space:nowrap;font-size:8.7px;line-height:0;top:119.99px;left:98.025px;transform-origin:0 0.3465em;transform:scale(1.0600,1.090);">B</div>
<div id="t36" style="position:absolute;white-space:nowrap;font-size:8.5px;line-height:0;top:120.05px;left:106.243px;transform-origin:0 0.3465em;transform:scale(0.9850,1.050);">repulsion</div>
<div id="t37" style="position:absolute;white-space:nowrap;font-size:8.9px;line-height:0;top:158.62px;left:96.000px;transform-origin:0 0.3465em;transform:scale(1.0000,1.050);">CSM</div>
<div id="t38" style="position:absolute;white-space:nowrap;font-size:8.5px;line-height:0;top:118.15px;left:256.212px;transform-origin:0 0.3465em;transform:scale(0.9610,1.050);">ideal gas</div>
<div id="t39" style="position:absolute;white-space:nowrap;font-size:8.5px;line-height:0;top:128.65px;left:256.447px;transform-origin:0 0.3465em;transform:scale(1.0000,1.050);">r</div>
<div id="t40" style="position:absolute;white-space:nowrap;font-size:6.1px;line-height:0;top:131.39px;left:259.250px;transform-origin:0 0.3465em;transform:scale(1.0000,1.050);">B</div>
<div id="t41" style="position:absolute;white-space:nowrap;font-size:11px;line-height:0;top:128.69px;color:#555;left:265.092px;transform-origin:0 0.3465em;transform:scale(1.0837,1.050);">=</div>
<div id="t42" style="position:absolute;white-space:nowrap;font-size:8.5px;line-height:0;top:128.65px;left:272.702px;transform-origin:0 0.3465em;transform:scale(0.9245,1.050);">0.3</div>
<div id="t43" style="position:absolute;white-space:nowrap;font-size:8.5px;line-height:0;top:128.65px;left:285.738px;transform-origin:0 0.3465em;transform:scale(1.1621,1.050);">fm</div>
<div id="t44" style="position:absolute;white-space:nowrap;font-size:8.5px;line-height:0;top:139.25px;left:256.447px;transform-origin:0 0.3465em;transform:scale(1.0000,1.050);">r</div>
<div id="t45" style="position:absolute;white-space:nowrap;font-size:6.1px;line-height:0;top:141.99px;left:259.250px;transform-origin:0 0.3465em;transform:scale(1.0000,1.050);">B</div>
<div id="t46" style="position:absolute;white-space:nowrap;font-size:11px;line-height:0;top:139.29px;color:#555;left:265.092px;transform-origin:0 0.3465em;transform:scale(1.0837,1.050);">=</div>
<div id="t47" style="position:absolute;white-space:nowrap;font-size:8.5px;line-height:0;top:139.25px;left:272.650px;transform-origin:0 0.3465em;transform:scale(0.9209,1.050);">0.5</div>
<div id="t48" style="position:absolute;white-space:nowrap;font-size:8.5px;line-height:0;top:139.25px;left:285.738px;transform-origin:0 0.3465em;transform:scale(1.1621,1.050);">fm</div>
<div id="t49" style="position:absolute;white-space:nowrap;font-size:8.5px;line-height:0;top:162.45px;left:212.108px;transform-origin:0 0.3465em;transform:scale(1.0274,1.050);">LQCD (Borsanyi et al)</div>
<div id="t50" style="position:absolute;white-space:nowrap;font-size:8.7px;line-height:0;top:204.69px;left:190.615px;transform-origin:0 0.3465em;transform:scale(1.0000,1.050);">P</div>
<div id="t51" style="position:absolute;white-space:nowrap;font-size:6.1px;line-height:0;top:207.59px;left:195.641px;transform-origin:0 0.3465em;transform:scale(1.1286,1.050);">BB</div>
<div id="t52" style="position:absolute;white-space:nowrap;font-size:8.6px;line-height:0;top:204.72px;left:207.094px;transform-origin:0 0.3465em;transform:scale(0.9921,1.050);">(CII,</div>
<div id="t53" style="position:absolute;white-space:nowrap;font-size:8.6px;line-height:0;top:204.72px;left:226.387px;transform-origin:0 0.3465em;transform:scale(1.0000,1.050);">r</div>
<div id="t54" style="position:absolute;white-space:nowrap;font-size:6.1px;line-height:0;top:207.59px;left:229.700px;transform-origin:0 0.3465em;transform:scale(1.0000,1.050);">B</div>
<div id="t55" style="position:absolute;white-space:nowrap;font-size:11px;line-height:0;top:204.79px;color:#555;left:234.029px;transform-origin:0 0.3465em;transform:scale(1.2934,1.050);">=</div>
<div id="t56" style="position:absolute;white-space:nowrap;font-size:8.6px;line-height:0;top:204.72px;left:241.021px;transform-origin:0 0.3465em;transform:scale(1.0050,1.050);">0.3</div>
<div id="t57" style="position:absolute;white-space:nowrap;font-size:8.6px;line-height:0;top:204.72px;left:255.900px;transform-origin:0 0.3465em;transform:scale(1.0000,1.050);">fm)</div>
</div>
</body></html>
